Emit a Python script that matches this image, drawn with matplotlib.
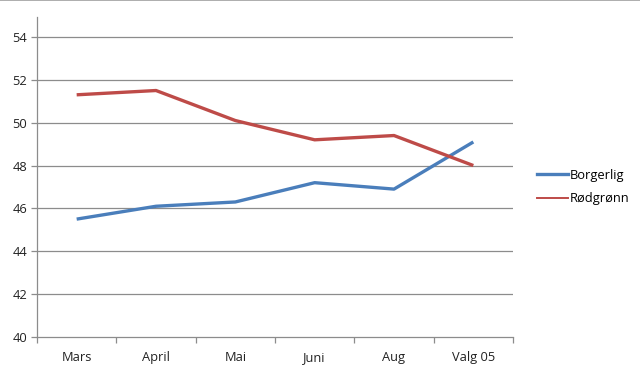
import matplotlib
matplotlib.use("Agg")
import matplotlib.pyplot as plt
from matplotlib.lines import Line2D
import numpy as np

categories = ["Mars", "April", "Mai", "Juni", "Aug", "Valg 05"]
borgerlig = [45.5, 46.1, 46.3, 47.2, 46.9, 49.1]
rodgronn = [51.3, 51.5, 50.1, 49.2, 49.4, 48.0]
yticks = [40, 42, 44, 46, 48, 50, 52, 54]

plt.rcParams['font.family'] = ['Open Sans', 'DejaVu Sans']

fig = plt.figure(figsize=(6.4, 3.72), dpi=100)
ax = fig.add_axes([37/640, 35/372, 476/640, 320/372])

blue = "#4A7EBB"
red = "#BE4B48"
grid = "#8C8C8C"
fs = 9.3

x = np.arange(len(categories))
ax.plot(x, borgerlig, color=blue, lw=2.4, solid_capstyle='butt', zorder=3)
ax.plot(x, rodgronn, color=red, lw=2.4, solid_capstyle='butt', zorder=3)

ax.set_xlim(-0.5, len(categories) - 0.5)
ax.set_ylim(40, 54.93)
ax.set_yticks(yticks)
ax.set_yticklabels([str(v) for v in yticks], fontsize=fs, color="#222222")
for v in yticks[1:]:
    ax.axhline(v, color=grid, lw=0.9, zorder=1)

ax.set_xticks(np.arange(-0.5, len(categories), 1.0))
ax.set_xticklabels([])
ax.set_xticks(x, minor=True)
ax.set_xticklabels(categories, minor=True, fontsize=fs, color="#222222")
ax.tick_params(axis='x', which='major', length=4, color=grid, width=0.9, direction='out')
ax.tick_params(axis='x', which='minor', length=0, pad=10)
ax.tick_params(axis='y', length=4, color=grid, width=0.9, pad=3)

for s in ['top', 'right']:
    ax.spines[s].set_visible(False)
ax.spines['left'].set_color(grid)
ax.spines['bottom'].set_color(grid)
ax.spines['left'].set_linewidth(0.9)
ax.spines['bottom'].set_linewidth(0.9)

handles = [Line2D([], [], color=blue, lw=2.4), Line2D([], [], color=red, lw=1.4)]
fig.legend(handles, ["Borgerlig", "Rødgrønn"], loc='center left',
           bbox_to_anchor=(525/640, 1 - 187/372), frameon=False, fontsize=fs,
           handlelength=2.4, handletextpad=0.15, labelspacing=0.8)

fig.add_artist(Line2D([0, 1], [0.999, 0.999], color="#A0A0A0", lw=1.2, transform=fig.transFigure))

fig.savefig("out.png", dpi=100)
